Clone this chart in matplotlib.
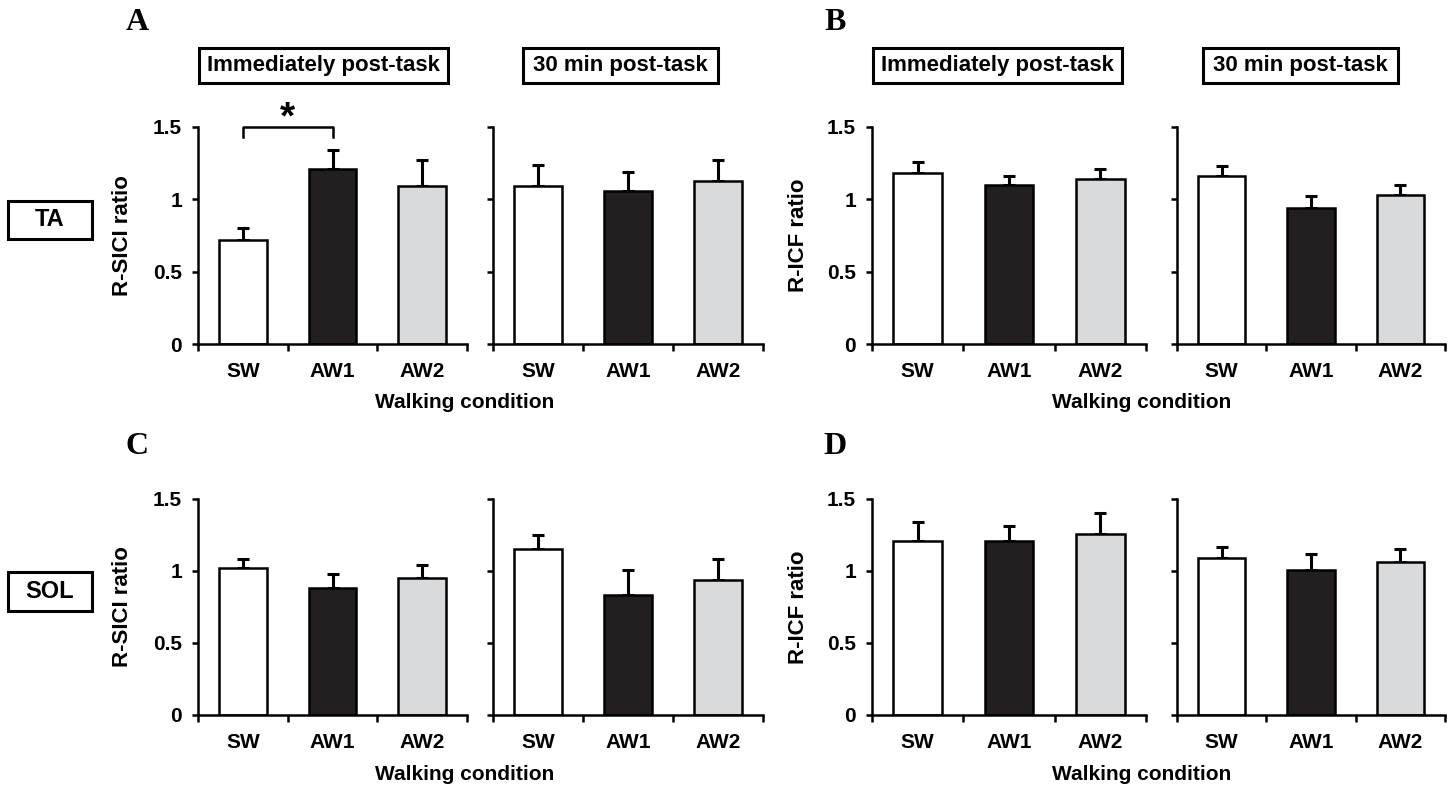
import matplotlib
matplotlib.use("Agg")
import matplotlib.pyplot as plt
from matplotlib.patches import Rectangle
import numpy as np

# ---------------- data ----------------
conditions = ["SW", "AW1", "AW2"]
bar_colors = ["#ffffff", "#231f20", "#d9dadc"]
time_titles = ["Immediately post-task", "30 min post-task"]
row_labels = ["TA", "SOL"]
panel_letters = ["A", "B", "C", "D"]
ylabels = ["R-SICI ratio", "R-ICF ratio"]
xlabel = "Walking condition"
yticks = [0, 0.5, 1, 1.5]
yticklabels = ["0", "0.5", "1", "1.5"]

# TA, R-SICI (panel A)
A_imm_mean = [0.72, 1.21, 1.09]
A_imm_err = [0.08, 0.13, 0.18]
A_30_mean = [1.09, 1.06, 1.13]
A_30_err = [0.15, 0.13, 0.14]
# TA, R-ICF (panel B)
B_imm_mean = [1.18, 1.10, 1.14]
B_imm_err = [0.08, 0.06, 0.07]
B_30_mean = [1.16, 0.94, 1.03]
B_30_err = [0.07, 0.08, 0.07]
# SOL, R-SICI (panel C)
C_imm_mean = [1.02, 0.88, 0.95]
C_imm_err = [0.06, 0.10, 0.09]
C_30_mean = [1.15, 0.83, 0.94]
C_30_err = [0.10, 0.18, 0.14]
# SOL, R-ICF (panel D)
D_imm_mean = [1.21, 1.21, 1.26]
D_imm_err = [0.13, 0.10, 0.14]
D_30_mean = [1.09, 1.01, 1.06]
D_30_err = [0.08, 0.11, 0.09]

# ---------------- figure ----------------
W, H = 1455, 788
fig = plt.figure(figsize=(W / 100, H / 100), dpi=100)
SANS = "Liberation Sans"
SERIF = "Liberation Serif"
plt.rcParams["font.family"] = [SANS, "DejaVu Sans"]
plt.rcParams["font.weight"] = "bold"

TICK_FS = 15
LABEL_FS = 16
XLAB_FS = 15
BOX_FS = 16


def fx(px):
    return px / W


def fy(py):
    return 1 - py / H


# axes pixel extents: (left, right) columns; (top, bottom) rows
cols = [(198, 467), (493, 763), (872, 1146), (1177, 1445)]
rows = [(127, 344), (499, 715)]

data = [
    [(A_imm_mean, A_imm_err), (A_30_mean, A_30_err), (B_imm_mean, B_imm_err), (B_30_mean, B_30_err)],
    [(C_imm_mean, C_imm_err), (C_30_mean, C_30_err), (D_imm_mean, D_imm_err), (D_30_mean, D_30_err)],
]

LW = 1.8
axes = {}
for r, (top, bot) in enumerate(rows):
    for c, (left, right) in enumerate(cols):
        ax = fig.add_axes([fx(left), fy(bot), fx(right) - fx(left), fy(top) - fy(bot)])
        axes[(r, c)] = ax
        means, errs = data[r][c]
        x = np.arange(len(conditions)) + 0.5
        ax.bar(x, means, width=0.53, color=bar_colors, edgecolor="black",
               linewidth=LW, zorder=2)
        ax.errorbar(x, means, yerr=[np.zeros(len(errs)), errs], fmt="none",
                    ecolor="black", elinewidth=2.2, capsize=4.5, capthick=2.2, zorder=1)
        ax.set_xlim(0, 3)
        ax.set_ylim(0, 1.5)
        for s in ["top", "right"]:
            ax.spines[s].set_visible(False)
        for s in ["left", "bottom"]:
            ax.spines[s].set_linewidth(LW)
        ax.spines["bottom"].set_capstyle("projecting")
        ax.set_yticks(yticks)
        ax.set_xticks([0, 1, 2, 3])
        ax.set_xticklabels([])
        ax.set_xticks(x, minor=True)
        ax.set_xticklabels(conditions, minor=True, fontsize=TICK_FS, fontweight="bold")
        ax.tick_params(axis="x", which="major", length=5, width=LW, direction="out")
        ax.tick_params(axis="x", which="minor", length=0, pad=13)
        ax.tick_params(axis="y", which="major", length=4.5, width=LW, direction="out", pad=7)
        if c in (0, 2):
            ax.set_yticklabels(yticklabels, fontsize=TICK_FS, fontweight="bold")
        else:
            ax.set_yticklabels([])

# significance bracket in panel A (SW vs AW1)
axA = axes[(0, 0)]
axA.plot([0.5, 0.5, 1.5, 1.5], [1.43, 1.5, 1.5, 1.43], color="black", lw=LW,
         clip_on=False, zorder=3)
axA.text(1.0, 1.56, "*", ha="center", va="center", fontsize=28, fontweight="bold",
         clip_on=False)

# y labels
for r, (top, bot) in enumerate(rows):
    yc = (top + bot) / 2
    fig.text(fx(123), fy(yc), ylabels[0], rotation=90, ha="center", va="center",
             fontsize=LABEL_FS, fontweight="bold")
    fig.text(fx(798), fy(yc), ylabels[1], rotation=90, ha="center", va="center",
             fontsize=LABEL_FS, fontweight="bold")

# x labels
for yy in (403, 774):
    fig.text(fx(465), fy(yy), xlabel, ha="center", va="center", fontsize=XLAB_FS,
             fontweight="bold")
    fig.text(fx(1142), fy(yy), xlabel, ha="center", va="center", fontsize=XLAB_FS,
             fontweight="bold")

# header boxes
header_boxes = [
    (time_titles[0], 199, 448),
    (time_titles[1], 523, 718),
    (time_titles[0], 873, 1122),
    (time_titles[1], 1203, 1398),
]
btop, bbot = 48, 83
for label, x0, x1 in header_boxes:
    fig.patches.append(Rectangle((fx(x0), fy(bbot)), fx(x1) - fx(x0), fy(btop) - fy(bbot),
                                 transform=fig.transFigure, fill=False,
                                 edgecolor="black", linewidth=2.2))
    fig.text(fx((x0 + x1) / 2), fy((btop + bbot) / 2), label, ha="center", va="center",
             fontsize=BOX_FS, fontweight="bold")

# row label boxes
for label, (t, b) in zip(row_labels, [(201, 239), (572, 611)]):
    fig.patches.append(Rectangle((fx(8), fy(b)), fx(92) - fx(8), fy(t) - fy(b),
                                 transform=fig.transFigure, fill=False,
                                 edgecolor="black", linewidth=2.2))
    fig.text(fx(50), fy((t + b) / 2), label, ha="center", va="center",
             fontsize=17, fontweight="bold")

# panel letters
for letter, (px, py) in zip(panel_letters, [(137, 22), (835, 22), (137, 447), (835, 447)]):
    fig.text(fx(px), fy(py), letter, ha="center", va="center", fontsize=23,
             fontweight="bold", family=[SERIF, "DejaVu Serif"])

fig.savefig("out.png", dpi=100)
